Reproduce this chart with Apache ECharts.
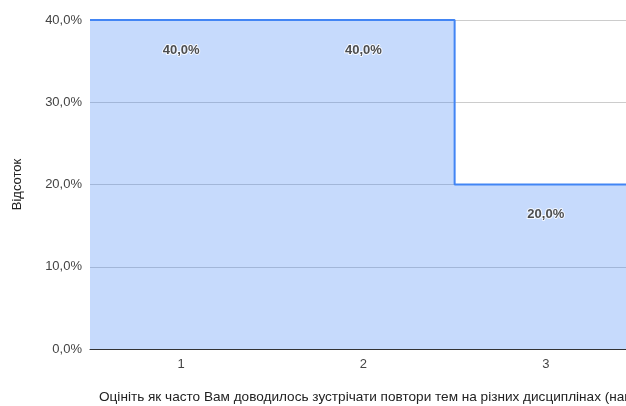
<!DOCTYPE html>
<html>
<head>
<meta charset="utf-8">
<script src="https://cdn.jsdelivr.net/npm/echarts@6/dist/echarts.min.js"></script>
<style>
  html, body { margin: 0; padding: 0; background: #fff; }
  #chart { width: 626px; height: 406px; }
</style>
</head>
<body>
<div id="chart"></div>
<script>
// дані
var categories = ['1', '2', '3'];
var percentValues = [40, 40, 20];
var yTicks = [0, 10, 20, 30, 40];
var xTitle = 'Оцініть як часто Вам доводилось зустрічати повтори тем на різних дисциплінах (наприклад, в різних курсах)';
var yTitle = 'Відсоток';

function fmt(v) {
    return v.toFixed(1).replace('.', ',') + '%';
}

// ступінчаста область: кожна категорія займає свою смугу
var stepData = [];
var labelData = [];
categories.forEach(function (c, i) {
    var x = Number(c);
    stepData.push([x - 0.5, percentValues[i]]);
    stepData.push([x + 0.5, percentValues[i]]);
    labelData.push([x, percentValues[i]]);
});

var myChart = echarts.init(document.getElementById('chart'));
var option = {
    backgroundColor: '#fff',
    animation: false,
    textStyle: { fontFamily: 'Liberation Sans, Arial, sans-serif' },
    title: {
        text: xTitle,
        left: 94,
        top: 385,
        textStyle: { fontSize: 13.6, fontWeight: 'normal', color: '#222', fontFamily: 'Liberation Sans, Arial, sans-serif' }
    },
    grid: { left: 90, right: 0, top: 20, bottom: 57, containLabel: false },
    xAxis: {
        type: 'value',
        min: 0.5,
        max: 3.44,   // графік обрізано праворуч
        axisLine: { show: true, lineStyle: { color: '#333', width: 1 } },
        axisTick: { show: false },
        splitLine: { show: false },
        axisLabel: {
            customValues: categories.map(Number),
            color: '#444',
            fontSize: 13,
            margin: 9
        }
    },
    yAxis: {
        type: 'value',
        min: yTicks[0],
        max: yTicks[yTicks.length - 1],
        interval: 10,
        name: yTitle,
        nameLocation: 'middle',
        nameRotate: 90,
        nameGap: 66,
        nameTextStyle: { color: '#222', fontSize: 13 },
        axisLine: { show: false },
        axisTick: { show: false },
        axisLabel: { color: '#444', fontSize: 13, margin: 8, formatter: fmt },
        splitLine: { lineStyle: { color: '#ccc' } }
    },
    series: [
        {
            type: 'line',
            data: stepData,
            symbol: 'none',
            lineStyle: { color: '#4285f4', width: 2 },
            areaStyle: { color: '#4285f4', opacity: 0.3 },
            z: 2
        },
        {
            type: 'scatter',
            data: labelData,
            symbolSize: 0,
            label: {
                show: true,
                position: 'inside',
                offset: [0, 30],
                formatter: function (p) { return fmt(p.value[1]); },
                fontSize: 13,
                fontWeight: 'bold',
                color: '#222',
                textBorderColor: '#fff',
                textBorderWidth: 2
            },
            z: 3
        }
    ]
};
myChart.setOption(option);
</script>
</body>
</html>
